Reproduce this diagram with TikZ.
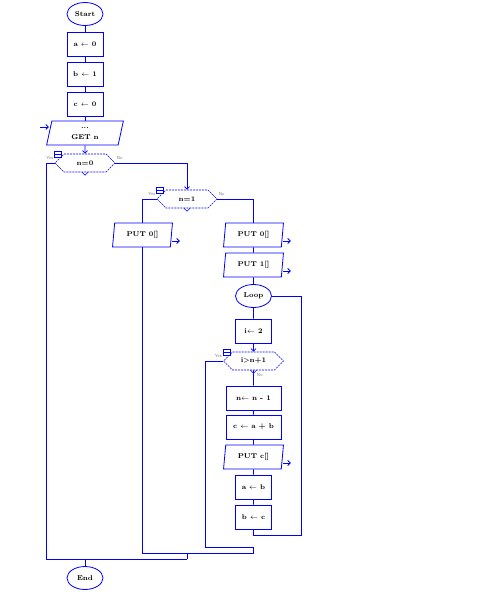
\documentclass[tikz,border=0pt]{standalone}
\usepackage{tikz}
\usetikzlibrary{shapes.geometric,shapes.symbols,arrows.meta}

\newcommand{\outnotch}[1]{%
  \draw[blue, line width=0.6pt] ([xshift=-3pt]#1.south) -- ([yshift=-3pt]#1.south) -- ([xshift=3pt]#1.south);}

\begin{document}
\begin{tikzpicture}[x=1pt, y=-1pt, >={Straight Barb[length=2.5pt,width=5pt]},
    font=\scriptsize\bfseries, line width=0.8pt,
    term/.style={ellipse, draw=blue, minimum width=36pt, minimum height=23pt, inner sep=0pt},
    proc/.style={rectangle, draw=blue, minimum width=36pt, minimum height=24pt, inner sep=0pt},
    io/.style={trapezium, trapezium left angle=80, trapezium right angle=100,
      trapezium stretches=true, draw=blue, minimum width=60pt, minimum height=24pt, inner sep=0pt},
    cond/.style={signal, signal to=east and west, signal pointer angle=90, draw=blue,
      dash pattern=on 2pt off 1pt, line width=0.6pt, minimum width=60pt, minimum height=18pt, inner sep=0pt},
    flow/.style={draw=blue},
    branch/.style={font=\fontsize{4.5}{5}\selectfont\sffamily\mdseries, text=gray, inner sep=1pt},
    fold/.style={draw=blue, fill=white, minimum width=7pt, minimum height=6pt, inner sep=0pt,
      line width=0.6pt, path picture={\draw[blue, line width=0.6pt]
        (path picture bounding box.west) -- (path picture bounding box.east);}}]
    \useasboundingbox (0,0) rectangle (477,592);
    \pgfmathsetmacro{\xa}{85}
    \pgfmathsetmacro{\xb}{142.5}
    \pgfmathsetmacro{\xc}{187}
    \pgfmathsetmacro{\xd}{253.5}
    % main column
    \node[term] (start) at (\xa,14) {Start};
    \node[proc] (a0) at (\xa,44) {a $\leftarrow$ 0};
    \node[proc] (b1) at (\xa,74) {b $\leftarrow$ 1};
    \node[proc] (c0) at (\xa,104) {c $\leftarrow$ 0};
    \node[io, minimum width=77pt, align=center] (getn) at (\xa,133) {...\\[3pt]GET n};
    \node[cond] (n0) at (\xa,163) {n=0};
    \node[cond] (n1) at (\xc,199) {n=1};
    \node[io] (out0a) at (\xb,235) {PUT 0[]};
    \node[io] (out0b) at (\xd,235) {PUT 0[]};
    \node[io] (out1) at (\xd,265) {PUT 1[]};
    % loop body
    \node[term] (loop) at (\xd,296) {Loop};
    \node[proc] (i2) at (\xd,331) {i$\leftarrow$ 2};
    \node[cond] (n2) at (\xd,361) {i>n+1};
    \node[proc, minimum width=55pt] (dec) at (\xd,398) {n$\leftarrow$ n - 1};
    \node[proc, minimum width=55pt] (cab) at (\xd,427) {c $\leftarrow$ a + b};
    \node[io] (outc) at (\xd,457) {PUT c[]};
    \node[proc] (ab) at (\xd,487) {a $\leftarrow$ b};
    \node[proc] (bc) at (\xd,517) {b $\leftarrow$ c};
    \node[term] (end) at (\xa,578) {End};
    % branch labels and fold boxes
    \node[branch, anchor=south east, yshift=2pt] (yes0) at (n0.west) {Yes};
    \node[branch, anchor=south west, yshift=2pt] (no0) at (n0.east) {No};
    \node[branch, anchor=south east, yshift=2pt] (yes1) at (n1.west) {Yes};
    \node[branch, anchor=south west, yshift=2pt] (no1) at (n1.east) {No};
    \node[branch, anchor=south east, yshift=2pt] (yes2) at (n2.west) {Yes};
    \node[branch, anchor=north west, xshift=2pt, yshift=-2pt] (no2) at (n2.south) {No};
    \node[fold] (fold0) at ([xshift=3.5pt,yshift=9pt]n0.west) {};
    \node[fold] (fold1) at ([xshift=3.5pt,yshift=9pt]n1.west) {};
    \node[fold] (fold2) at ([xshift=3.5pt,yshift=9pt]n2.west) {};
    \outnotch{n0}
    \outnotch{n1}
    \outnotch{n2}
    % junctions
    \coordinate (getin) at (40,127);
    \coordinate (leftA) at (46,559);
    \coordinate (mergeA) at (\xc,559);
    \coordinate (mergeB) at (\xd,553);
    \coordinate (exit) at (205,547);
    \coordinate (back) at (301,535);
    % connectors
    \draw[flow] (start) -- (a0) -- (b1) -- (c0) -- (getn);
    \draw[flow, ->] (getn) -- (n0);
    \draw[flow, ->] (getin) -- (getin -| getn.west);
    \draw[flow, ->] (n0.east) -| (n1.north);
    \draw[flow] (n0.west) -| (leftA) -- (mergeA);
    \draw[flow] (n1.west) -| (out0a.north);
    \draw[flow] (n1.east) -| (out0b.north);
    \draw[flow] (out0a.south) |- (mergeB);
    \draw[flow] (mergeB -| mergeA) -- (mergeA);
    \draw[flow] (out0b) -- (out1) -- (loop) -- (i2);
    \draw[flow, ->] (i2) -- (n2);
    \draw[flow] (n2) -- (dec) -- (cab) -- (outc) -- (ab) -- (bc);
    \draw[flow] (n2.west) -| (exit) -| (mergeB);
    \draw[flow] (bc.south) |- (back) |- (loop.east);
    \draw[flow] (end) -- (end |- mergeA);
    % output arrows
    \draw[flow, ->] ([yshift=-6pt]out0a.east) -- ++(8,0);
    \draw[flow, ->] ([yshift=-6pt]out0b.east) -- ++(8,0);
    \draw[flow, ->] ([yshift=-6pt]out1.east) -- ++(8,0);
    \draw[flow, ->] ([yshift=-6pt]outc.east) -- ++(8,0);
\end{tikzpicture}
\end{document}
